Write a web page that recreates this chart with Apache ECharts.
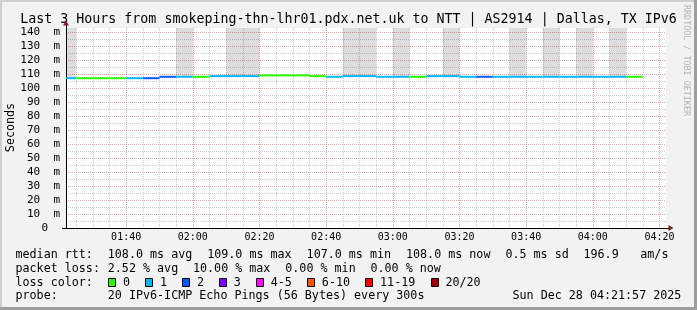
<!DOCTYPE html>
<html><head><meta charset="utf-8">
<script src="https://cdn.jsdelivr.net/npm/echarts@6/dist/echarts.min.js"></script>
<style>html,body{margin:0;padding:0;background:#f2f2f2}#c{width:697px;height:310px}</style>
</head><body><div id="c"></div>
<script>
// ---------------- data ----------------
const TITLE = 'Last 3 Hours from smokeping-thn-lhr01.pdx.net.uk to NTT | AS2914 | Dallas, TX IPv6';
const WINDOW_START = '01:21:57';
const WINDOW_END = '04:21:57';
const STEP_MIN = 5;
const Y_MAX = 142.857;

// end time of every 5-minute step
const stepEnds = ['01:25','01:30','01:35','01:40','01:45','01:50','01:55','02:00','02:05','02:10',
  '02:15','02:20','02:25','02:30','02:35','02:40','02:45','02:50','02:55','03:00',
  '03:05','03:10','03:15','03:20','03:25','03:30','03:35','03:40','03:45','03:50',
  '03:55','04:00','04:05','04:10','04:15'];
// median rtt in ms
const medianMs = [107.0,107.0,107.0,107.0,107.0,107.0,108.0,108.0,108.0,108.5,
  108.5,108.5,109.0,109.0,109.0,108.5,108.0,108.5,108.5,108.0,
  108.0,108.0,108.5,108.5,108.0,108.0,108.0,108.0,108.0,108.0,
  108.0,108.0,108.0,108.0,108.0];
// lost pings (of 20)
const lossCount = [1,0,0,0,1,2,2,1,0,1,
  1,1,0,0,0,0,1,1,1,1,
  1,0,1,1,1,2,1,1,1,1,
  1,1,1,1,0];
// 1 = smoke (slowest pings) reaches beyond top of graph
const smokeAbove = [1,0,0,0,0,0,0,1,0,0,
  1,1,0,0,0,0,0,1,1,0,
  1,0,0,1,0,0,0,1,0,1,
  0,1,0,1,0];

const yMajorTicks = [10,20,30,40,50,60,70,80,90,100,110,120,130,140];
const yLabelTicks = [0,10,20,30,40,50,60,70,80,90,100,110,120,130,140];
const yMinorTicks = [5,15,25,35,45,55,65,75,85,95,105,115,125,135];
const xMajorLabels = ['01:40','02:00','02:20','02:40','03:00','03:20','03:40','04:00','04:20'];
const xMinorLabels = ['01:25','01:30','01:35','01:45','01:50','01:55','02:05','02:10','02:15',
  '02:25','02:30','02:35','02:45','02:50','02:55','03:05','03:10','03:15','03:25','03:30','03:35',
  '03:45','03:50','03:55','04:05','04:10','04:15'];

const lossLegendLabels = ['0','1','2','3','4-5','6-10','11-19','20/20'];
const lossLegendColors = ['#26ff00','#00b8ff','#0059ff','#7e00ff','#ff00ff','#ff5500','#ff0000','#a10000'];
const lossBucketMax = [0,1,2,3,5,10,19,20];

const statsRows = [
  [[0,'median rtt:'],[13,'108.0 ms avg'],[27,'109.0 ms max'],[41,'107.0 ms min'],[55,'108.0 ms now'],[69,'0.5 ms sd'],[80,'196.9'],[88,'am/s']],
  [[0,'packet loss:'],[13,'2.52 % avg'],[25,'10.00 % max'],[38,'0.00 % min'],[50,'0.00 % now']],
  [[0,'loss color:']],
  [[0,'probe:'],[13,'20 IPv6-ICMP Echo Pings (56 Bytes) every 300s'],[70,'Sun Dec 28 04:21:57 2025']]
];

// ---------------- helpers ----------------
function toMin(s){ const p = s.split(':').map(Number); return p[0]*60 + p[1] + (p[2]||0)/60; }
function fmt(m){ const h = Math.floor(m/60), mm = Math.round(m - h*60); return String(h).padStart(2,'0')+':'+String(mm).padStart(2,'0'); }
function lossColor(n){ for (let i=0;i<lossBucketMax.length;i++) if (n <= lossBucketMax[i]) return lossLegendColors[i]; return lossLegendColors[lossLegendColors.length-1]; }

const X_MIN = toMin(WINDOW_START), X_MAX = toMin(WINDOW_END);
const MONO = '"DejaVu Sans Mono", monospace';
const MGRID = 'rgba(222,80,80,0.5)';
const GRID = 'rgba(143,143,143,0.45)';

const medianData = stepEnds.map((s,i) => [toMin(s), medianMs[i], lossCount[i]]);
const smokeData = stepEnds.map((s,i) => [toMin(s), medianMs[i], smokeAbove[i]]).filter(d => d[2]);

// ---------------- graphics (text, legend, frame) ----------------
const CW = 7.1, LX = 15.5;
const rowY = [254.8, 268.6, 282.5, 296.4];
const graphics = [
  {type:'rect', shape:{x:0,y:0,width:697,height:2}, style:{fill:'#cfcfcf'}, silent:true},
  {type:'rect', shape:{x:0,y:0,width:2,height:310}, style:{fill:'#cfcfcf'}, silent:true},
  {type:'rect', shape:{x:0,y:307,width:697,height:3}, style:{fill:'#9e9e9e'}, silent:true},
  {type:'rect', shape:{x:694,y:0,width:3,height:310}, style:{fill:'#9e9e9e'}, silent:true},
  // small axis overhangs drawn by rrdtool around the origin / before the arrows
  {type:'line', shape:{x1:62, y1:228.5, x2:66, y2:228.5}, style:{stroke:'#000', lineWidth:1}, silent:true},
  {type:'line', shape:{x1:666, y1:228.5, x2:669, y2:228.5}, style:{stroke:'#000', lineWidth:1}, silent:true},
  {type:'line', shape:{x1:66.5, y1:28, x2:66.5, y2:25}, style:{stroke:'#000', lineWidth:1}, silent:true},
  {type:'text', x:348.5, y:19.5, style:{text:TITLE, fill:'#000', fontFamily:MONO, fontSize:13.3, align:'center', verticalAlign:'middle'}},
  {type:'text', x:10.5, y:127.5, rotation:Math.PI/2, style:{text:'Seconds', fill:'#000', fontFamily:MONO, fontSize:11.7, align:'center', verticalAlign:'middle'}},
  {type:'text', x:686, y:60.5, rotation:-Math.PI/2, style:{text:'RRDTOOL / TOBI OETIKER', fill:'#b4b4b4', fontFamily:MONO, fontSize:8.4, align:'center', verticalAlign:'middle'}}
];
statsRows.forEach((row, r) => row.forEach(seg => graphics.push({
  type:'text', x: LX + seg[0]*CW, y: rowY[r],
  style:{text:seg[1], fill:'#000', fontFamily:MONO, fontSize:11.7, align:'left', verticalAlign:'middle'}
})));
(function(){
  let col = 13;
  lossLegendLabels.forEach((lab, i) => {
    const bx = Math.round(16 + col*CW) + 0.5;
    graphics.push({type:'rect', shape:{x:bx, y:278.5, width:7, height:8}, style:{fill:lossLegendColors[i], stroke:'#000', lineWidth:1}});
    graphics.push({type:'text', x: LX + (col+2.15)*CW, y: rowY[2], style:{text:lab, fill:'#000', fontFamily:MONO, fontSize:11.7, align:'left', verticalAlign:'middle'}});
    col += 2.2 + lab.length + 2;
  });
})();

// ---------------- chart ----------------
const chart = echarts.init(document.getElementById('c'), null, {renderer:'canvas'});
chart.setOption({
  animation:false,
  backgroundColor:'#f2f2f2',
  grid:{left:66, top:28, width:600, height:200, show:true, backgroundColor:'#ffffff', borderWidth:0},
  xAxis:[
    {type:'value', min:X_MIN, max:X_MAX, position:'bottom', z:1,
     axisLine:{show:true, lineStyle:{color:'#7f1f1f', width:1}, symbol:['none','triangle'], symbolSize:[6,5], symbolOffset:[0,5]},
     axisTick:{show:false, customValues: xMajorLabels.map(toMin)},
     axisLabel:{customValues: xMajorLabels.map(toMin), formatter: v => fmt(v), fontFamily:MONO, fontSize:10, color:'#000', margin:4},
     splitLine:{show:true, lineStyle:{color:MGRID, width:1, type:[1,1]}}},
    {type:'value', min:X_MIN, max:X_MAX, position:'bottom', z:2,
     axisLine:{show:true, onZero:false, lineStyle:{color:'#000', width:1}},
     axisTick:{show:false, customValues: xMinorLabels.map(toMin)},
     axisLabel:{show:false},
     splitLine:{show:true, lineStyle:{color:GRID, width:1, type:[1,1]}}}
  ],
  yAxis:[
    {type:'value', min:0, max:Y_MAX, position:'left', z:1,
     axisLine:{show:true, lineStyle:{color:'#7f1f1f', width:1}, symbol:['none','triangle'], symbolSize:[6,5], symbolOffset:[0,5]},
     axisTick:{show:false, customValues: yMajorTicks},
     axisLabel:{customValues: yLabelTicks, fontFamily:MONO, fontSize:11, color:'#000', margin:6,
       formatter: v => v === 0 ? '{z|0}' : v + '  m',
       rich:{z:{fontFamily:MONO, fontSize:11, color:'#000', padding:[0,12,0,0]}}},
     splitLine:{show:true, lineStyle:{color:MGRID, width:1, type:[1,1]}}},
    {type:'value', min:0, max:Y_MAX, position:'left', z:2,
     axisLine:{show:true, onZero:false, lineStyle:{color:'#000', width:1}},
     axisTick:{show:false, customValues: yMinorTicks},
     axisLabel:{show:false},
     splitLine:{show:true, lineStyle:{color:GRID, width:1, type:[1,1]}}}
  ],
  series:[
    {type:'custom', name:'smoke', xAxisIndex:0, yAxisIndex:0, z:3, data:smokeData,
     renderItem:(params, api) => {
       const t = api.value(0), v = api.value(1);
       const a = api.coord([Math.max(t - STEP_MIN, X_MIN), Y_MAX]);
       const b = api.coord([t, v]);
       return {type:'rect', shape:{x:a[0], y:a[1], width:b[0]-a[0], height:b[1]-a[1]}, style:{fill:'rgba(0,0,0,0.135)'}};
     }},
    {type:'custom', name:'median rtt', xAxisIndex:0, yAxisIndex:0, z:4, data:medianData,
     renderItem:(params, api) => {
       const t = api.value(0), v = api.value(1), n = api.value(2);
       const a = api.coord([Math.max(t - STEP_MIN, X_MIN), v]);
       const b = api.coord([t, v]);
       return {type:'line', shape:{x1:a[0], y1:a[1], x2:b[0], y2:b[1]}, style:{stroke:lossColor(n), lineWidth:2}};
     }}
  ],
  graphic: graphics
});
</script></body></html>
